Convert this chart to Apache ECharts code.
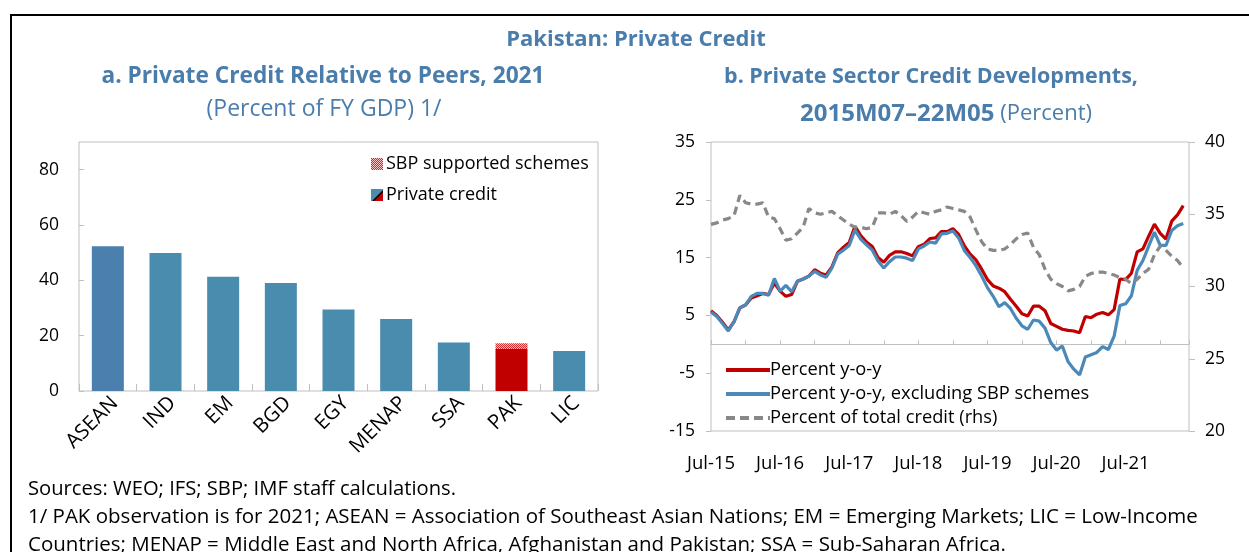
<!DOCTYPE html>
<html><head><meta charset="utf-8">
<script src="https://cdn.jsdelivr.net/npm/echarts@6/dist/echarts.min.js"></script>
<style>html,body{margin:0;padding:0;background:#fff}#c{width:1249px;height:552px}</style>
</head><body><div id="c"></div>
<script>
// ---- Panel a data ----
const peerCategories = ['ASEAN','IND','EM','BGD','EGY','MENAP','SSA','PAK','LIC'];
const privateCredit = [52.3, 49.9, 41.3, 39.0, 29.5, 26.0, 17.5, 15.2, 14.5];
const sbpSchemes    = [0, 0, 0, 0, 0, 0, 0, 2.1, 0];

// ---- Panel b data (monthly, 2015M07 .. 2022M05) ----
const xTickLabels = ['Jul-15','Jul-16','Jul-17','Jul-18','Jul-19','Jul-20','Jul-21'];
const creditYoY = [5.8,5.0,3.8,2.5,3.9,6.3,6.8,8.0,8.4,8.8,
  8.6,10.6,9.2,8.3,8.6,10.9,11.3,11.8,12.9,12.3,
  12.0,13.4,15.8,16.8,17.6,20.4,18.8,17.7,16.9,15.0,
  14.2,15.4,16.0,16.0,15.7,15.3,16.9,17.3,18.3,18.4,
  19.5,19.5,20.0,19.0,17.0,15.6,14.6,13.0,11.2,10.1,
  9.7,9.1,7.8,6.6,5.3,4.9,6.6,6.6,5.8,3.6,
  3.1,2.6,2.4,2.3,2.0,4.8,4.6,5.2,5.5,5.1,
  6.0,11.3,11.2,12.3,16.0,16.5,18.7,20.8,19.2,18.2,
  21.3,22.4,24.0];
const creditYoYExSBP = [5.6,4.8,3.6,2.3,3.9,6.3,6.8,8.3,8.8,8.8,
  8.5,11.4,9.2,10.2,9.1,10.9,11.3,11.8,12.6,12.0,
  11.6,13.2,15.6,16.3,17.1,19.8,18.2,17.2,16.3,14.4,
  13.2,14.3,15.1,15.1,14.9,14.5,16.5,17.0,17.7,17.5,
  19.1,19.2,19.6,18.4,16.2,15.0,13.6,11.8,9.8,8.3,
  6.5,7.2,6.2,4.5,3.2,2.6,4.2,4.0,2.8,0.3,
  -1.0,-0.3,-3.0,-4.3,-5.3,-2.2,-1.8,-1.4,-0.4,-0.9,
  1.4,6.7,7.0,8.4,12.8,14.5,17.0,19.4,17.1,17.1,
  19.7,20.5,20.9];
const shareOfTotalCredit = [34.3,34.4,34.6,34.7,34.9,36.3,35.8,35.7,35.7,35.8,
  34.8,34.7,34.0,33.2,33.3,33.7,34.1,35.4,35.1,35.0,
  35.1,35.2,34.9,34.6,34.3,34.1,34.1,34.0,34.1,35.1,
  35.1,35.0,35.2,34.9,34.5,34.8,35.2,35.1,35.0,35.2,
  35.3,35.5,35.4,35.3,35.2,34.8,33.9,33.1,32.6,32.5,
  32.5,32.6,32.9,33.3,33.6,33.7,32.7,32.2,31.2,30.5,
  30.2,30.0,29.7,29.8,30.0,30.7,30.9,31.0,31.0,30.9,
  30.8,30.6,30.5,30.2,30.5,30.9,31.2,32.2,32.8,32.5,
  32.1,31.8,31.3];

const FONT = 'Open Sans';
const TITLE_COLOR = '#4a7dab';
const RED = '#c00000';
const BLUE_LINE = '#4a89b9';
const GRAY_LINE = '#888888';
const BLUE_BAR = '#4a8cad';
const BLUE_ASEAN = '#4a7fae';
const AXIS_GRAY = '#bfbfbf';

function checkerCanvas(size) {
  const c = document.createElement('canvas');
  c.width = size; c.height = size;
  const g = c.getContext('2d');
  g.fillStyle = '#f6c4c4'; g.fillRect(0, 0, size, size);
  g.fillStyle = '#d8282c';
  for (let y = 0; y < size; y++) for (let x = 0; x < size; x++) if ((x + y) % 2 === 0) g.fillRect(x, y, 1, 1);
  return c;
}
function privateIcon() {
  const c = document.createElement('canvas');
  c.width = 12; c.height = 12;
  const g = c.getContext('2d');
  g.fillStyle = BLUE_BAR; g.fillRect(0, 0, 12, 12);
  g.fillStyle = RED;
  g.beginPath(); g.moveTo(12, 2); g.lineTo(12, 12); g.lineTo(2, 12); g.closePath(); g.fill();
  g.strokeStyle = '#000'; g.lineWidth = 1.4;
  g.beginPath(); g.moveTo(12, 2); g.lineTo(2, 12); g.stroke();
  return c.toDataURL();
}
function lineIcon(color, dash) {
  const c = document.createElement('canvas');
  c.width = 44; c.height = 14;
  const g = c.getContext('2d');
  g.strokeStyle = color; g.lineWidth = 4;
  if (dash) g.setLineDash(dash);
  g.beginPath(); g.moveTo(0, 7); g.lineTo(44, 7); g.stroke();
  return 'image://' + c.toDataURL();
}
const checkerPattern = { image: checkerCanvas(2), repeat: 'repeat' };
const sbpIcon = checkerCanvas(12).toDataURL();

const chart = echarts.init(document.getElementById('c'));
const lblY = { fontFamily: FONT, fontSize: 17.5, color: '#000' };
const lblX = { fontFamily: FONT, fontSize: 18.5, color: '#000' };
const titleBase = { padding: 0, textAlign: 'center', textVerticalAlign: 'middle' };

chart.setOption({
  animation: false,
  title: [
    Object.assign({ text: 'Pakistan: Private Credit', left: 636, top: 40,
      textStyle: { fontFamily: FONT, fontSize: 22, fontWeight: 'bold', color: TITLE_COLOR } }, titleBase),
    Object.assign({ text: 'a. Private Credit Relative to Peers, 2021', left: 323, top: 77,
      textStyle: { fontFamily: FONT, fontSize: 22.7, fontWeight: 'bold', color: TITLE_COLOR } }, titleBase),
    Object.assign({ text: '(Percent of FY GDP) 1/', left: 324, top: 109.5,
      textStyle: { fontFamily: FONT, fontSize: 23, fontWeight: 'normal', color: TITLE_COLOR } }, titleBase),
    Object.assign({ text: 'b. Private Sector Credit Developments,', left: 931, top: 77,
      textStyle: { fontFamily: FONT, fontSize: 21.5, fontWeight: 'bold', color: TITLE_COLOR } }, titleBase),
    Object.assign({ text: '{b|2015M07–22M05} {n|(Percent)}', left: 946, top: 114,
      textStyle: { fontFamily: FONT, fontSize: 22, color: TITLE_COLOR,
        rich: { b: { fontFamily: FONT, fontSize: 24, fontWeight: 'bold', color: TITLE_COLOR },
                n: { fontFamily: FONT, fontSize: 22, fontWeight: 'normal', color: TITLE_COLOR } } } }, titleBase)
  ],
  graphic: [
    { type: 'rect', shape: { x: 11, y: 15, width: 1300, height: 700 }, style: { fill: 'none', stroke: '#000', lineWidth: 2 }, silent: true },
    { type: 'text', x: 28, y: 489, style: { text: 'Sources: WEO; IFS; SBP; IMF staff calculations.', fontFamily: FONT, fontSize: 20.2, fill: '#000', verticalAlign: 'middle', textVerticalAlign: 'middle' } },
    { type: 'text', x: 28, y: 517, style: { text: '1/ PAK observation is for 2021; ASEAN = Association of Southeast Asian Nations; EM = Emerging Markets; LIC = Low-Income', fontFamily: FONT, fontSize: 20.5, fill: '#000', verticalAlign: 'middle', textVerticalAlign: 'middle' } },
    { type: 'text', x: 28, y: 545, style: { text: 'Countries; MENAP = Middle East and North Africa, Afghanistan and Pakistan; SSA = Sub-Saharan Africa.', fontFamily: FONT, fontSize: 20.5, fill: '#000', verticalAlign: 'middle', textVerticalAlign: 'middle' } }
  ],
  legend: [
    { data: [ { name: 'SBP supported schemes', icon: 'image://' + sbpIcon }, { name: 'Private credit', icon: 'image://' + privateIcon() } ],
      orient: 'vertical', left: 366, top: 150, itemWidth: 12, itemHeight: 12, itemGap: 13,
      textStyle: { fontFamily: FONT, fontSize: 18, color: '#000', padding: [0, 0, 0, -2] }, selectedMode: false },
    { data: [ { name: 'Percent y-o-y', icon: lineIcon(RED) },
              { name: 'Percent y-o-y, excluding SBP schemes', icon: lineIcon(BLUE_LINE) },
              { name: 'Percent of total credit (rhs)', icon: lineIcon(GRAY_LINE, [9, 5]) } ],
      orient: 'vertical', left: 721, top: 356, itemWidth: 44, itemHeight: 14, itemGap: 6,
      textStyle: { fontFamily: FONT, fontSize: 18.3, color: '#000', padding: [0, 0, 0, -5] }, selectedMode: false }
  ],
  grid: [
    { left: 79, top: 142, width: 519, height: 249, show: true, borderColor: AXIS_GRAY, borderWidth: 1, backgroundColor: 'transparent' },
    { left: 711, top: 142, width: 478, height: 289, show: true, borderColor: AXIS_GRAY, borderWidth: 1, backgroundColor: 'transparent' },
    { left: 711, top: 142, width: 478, height: 289, show: false }
  ],
  xAxis: [
    { gridIndex: 0, type: 'category', data: peerCategories,
      axisLine: { show: false },
      axisTick: { show: true, inside: true, length: 7, lineStyle: { color: AXIS_GRAY } },
      axisLabel: Object.assign({ rotate: 45, margin: 16, padding: [0, -10, 0, 0] }, lblX, { fontSize: 20.5 }) },
    { gridIndex: 1, type: 'value', min: 0, max: 83, interval: 12,
      axisLine: { show: false }, axisTick: { show: false }, splitLine: { show: false },
      axisLabel: Object.assign({ margin: 23, showMaxLabel: false,
        formatter: v => (v % 12 === 0 && xTickLabels[v / 12]) ? xTickLabels[v / 12] : '' }, lblX) },
    { gridIndex: 2, type: 'value', min: 0, max: 83, interval: 6,
      axisLine: { show: true, onZero: true, lineStyle: { color: AXIS_GRAY, width: 1 } },
      axisTick: { show: true, inside: true, length: 4, lineStyle: { color: AXIS_GRAY } },
      axisLabel: { show: false }, splitLine: { show: false } }
  ],
  yAxis: [
    { gridIndex: 0, type: 'value', min: 0, max: 90, interval: 20,
      axisLine: { show: false }, splitLine: { show: false },
      axisTick: { show: true, inside: true, length: 5, lineStyle: { color: AXIS_GRAY } },
      axisLabel: Object.assign({ margin: 20, showMaxLabel: false }, lblY) },
    { gridIndex: 1, type: 'value', min: -15, max: 35, interval: 10, position: 'left',
      axisLine: { show: false }, splitLine: { show: false },
      axisTick: { show: true, inside: false, length: 5, lineStyle: { color: AXIS_GRAY } },
      axisLabel: Object.assign({ margin: 16 }, lblY) },
    { gridIndex: 1, type: 'value', min: 20, max: 40, interval: 5, position: 'right',
      axisLine: { show: false }, splitLine: { show: false },
      axisTick: { show: true, inside: false, length: 6, lineStyle: { color: AXIS_GRAY } },
      axisLabel: Object.assign({ margin: 16 }, lblY) },
    { gridIndex: 2, type: 'value', min: -15, max: 35, interval: 10,
      axisLine: { show: false }, axisTick: { show: false }, axisLabel: { show: false }, splitLine: { show: false } }
  ],
  series: [
    { name: 'Private credit', type: 'bar', xAxisIndex: 0, yAxisIndex: 0, stack: 'peers', barWidth: 32,
      data: privateCredit,
      itemStyle: { color: p => p.name === 'PAK' ? RED : (p.name === 'ASEAN' ? BLUE_ASEAN : BLUE_BAR) } },
    { name: 'SBP supported schemes', type: 'bar', xAxisIndex: 0, yAxisIndex: 0, stack: 'peers', barWidth: 32,
      data: sbpSchemes, itemStyle: { color: checkerPattern } },
    { name: 'Percent y-o-y', type: 'line', xAxisIndex: 1, yAxisIndex: 1, symbol: 'none', z: 3,
      data: creditYoY.map((v, i) => [i, v]), lineStyle: { color: RED, width: 3.2 }, itemStyle: { color: RED } },
    { name: 'Percent y-o-y, excluding SBP schemes', type: 'line', xAxisIndex: 1, yAxisIndex: 1, symbol: 'none', z: 4,
      data: creditYoYExSBP.map((v, i) => [i, v]), lineStyle: { color: BLUE_LINE, width: 3.2 }, itemStyle: { color: BLUE_LINE } },
    { name: 'Percent of total credit (rhs)', type: 'line', xAxisIndex: 1, yAxisIndex: 2, symbol: 'none', z: 5,
      data: shareOfTotalCredit.map((v, i) => [i, v]), lineStyle: { color: GRAY_LINE, width: 3.2, type: [8, 5] }, itemStyle: { color: GRAY_LINE } }
  ]
});
</script></body></html>
